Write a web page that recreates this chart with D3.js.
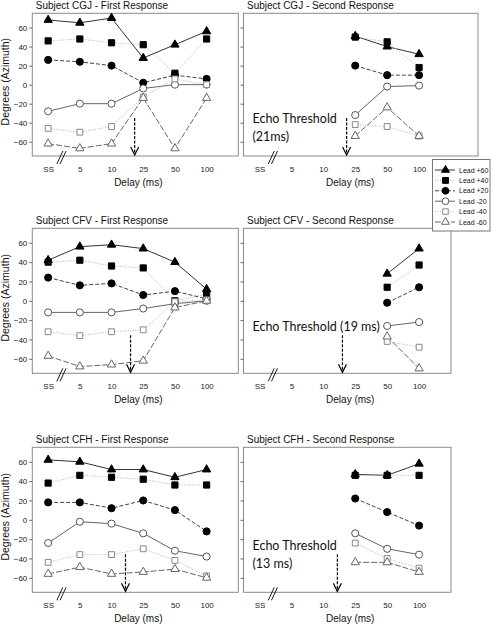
<!DOCTYPE html>
<html><head><meta charset="utf-8">
<script src="https://cdn.jsdelivr.net/npm/d3@7"></script>
<style>body{margin:0;background:#fff}svg{display:block}</style>
</head><body>
<svg id="c" width="495" height="624"></svg>
<script>
// ---------- data ----------
const delays = ["SS", "5", "10", "25", "50", "100"];
const yTickValues = [-60, -40, -20, 0, 20, 40, 60];
const leads = ["Lead +60", "Lead +40", "Lead +20", "Lead -20", "Lead -40", "Lead -60"];

// rows = leads (+60, +40, +20, -20, -40, -60), columns = delays
const cgjFirst = [
  [68, 65, 70, 28, 42, 56],
  [46, 48, 44, 42, 12, 48],
  [26, 24, 20, 2, 10, 6],
  [-28, -20, -20, -4, 0, 0],
  [-46, -50, -44, -13, 6, 0],
  [-62, -67, -62, -14, -67, -14]
];
const cgjSecond = [
  [null, null, null, 51, 40, 32],
  [null, null, null, 50, 45, 18],
  [null, null, null, 20, 10, 10],
  [null, null, null, -32, -2, -1],
  [null, null, null, -42, -44, -54],
  [null, null, null, -54, -24, -54]
];
const cfvFirst = [
  [42, 56, 58, 54, 40, 12],
  [40, 42, 36, 34, 0, 7],
  [24, 16, 18, 6, 10, 2],
  [-12, -12, -12, -8, -3, 0],
  [-32, -36, -32, -30, -1, 1],
  [-57, -68, -66, -62, -7, 0]
];
const cfvSecond = [
  [null, null, null, null, 28, 54],
  [null, null, null, null, 14, 37],
  [null, null, null, null, -2, 14],
  [null, null, null, null, -26, -22],
  [null, null, null, null, -42, -48],
  [null, null, null, null, -37, -70]
];
const cfhFirst = [
  [62, 60, 52, 52, 44, 52],
  [38, 46, 44, 42, 36, 36],
  [18, 18, 12, 20, 10, -12],
  [-24, -2, -4, -14, -32, -38],
  [-44, -36, -36, -30, -42, -58],
  [-56, -49, -56, -54, -51, -60]
];
const cfhSecond = [
  [null, null, null, 47, 46, 58],
  [null, null, null, 46, 46, 46],
  [null, null, null, 22, 8, -6],
  [null, null, null, -14, -30, -36],
  [null, null, null, -24, -40, -50],
  [null, null, null, -44, -44, -54]
];
const subjects = ["CGJ", "CFV", "CFH"];
const responses = ["First Response", "Second Response"];
// echo-threshold arrow position, in delay-index units
const thresholdPos = [2.73, 2.6, 2.44];
const thresholdLabels = [["Echo Threshold", "(21ms)"], ["Echo Threshold (19 ms)"], ["Echo Threshold", "(13 ms)"]];

// ---------- layout / styles ----------
const svg = d3.select("#c");
const rows = [{top: 13.3, bottom: 156}, {top: 228.3, bottom: 373.3}, {top: 447.3, bottom: 592.3}];
const cols = [{left: 32.3, right: 238.3}, {left: 243.5, right: 451}];
const panelData = [[cgjFirst, cgjSecond], [cfvFirst, cfvSecond], [cfhFirst, cfhSecond]];
const font = "'Liberation Sans', Arial, sans-serif";

const styles = [
  {sym: d3.symbolTriangle, size: 30, fill: "#000", stroke: "#000", line: "#333", dash: null, lw: 1},
  {sym: d3.symbolSquare, size: 38, fill: "#000", stroke: "#000", line: "#b5b5b5", dash: "1,1.5", lw: 1},
  {sym: d3.symbolCircle, size: 40, fill: "#000", stroke: "#000", line: "#444", dash: "4,2", lw: 1},
  {sym: d3.symbolCircle, size: 40, fill: "#fff", stroke: "#555", line: "#666", dash: null, lw: 1},
  {sym: d3.symbolSquare, size: 34, fill: "#fff", stroke: "#888", line: "#b5b5b5", dash: "1,1.5", lw: 1},
  {sym: d3.symbolTriangle, size: 30, fill: "#fff", stroke: "#666", line: "#666", dash: "6,2", lw: 1}
];

rows.forEach((r, ri) => {
  cols.forEach((c, ci) => {
    const right = (ri === 0 && ci === 1) ? 478 : c.right;
    const x = d3.scaleLinear().domain([-0.5, 6]).range([c.left, c.right]);
    const y = d3.scaleLinear().domain([-75, 75]).range([r.bottom, r.top]);
    const g = svg.append("g");

    // frame
    g.append("rect").attr("x", c.left).attr("y", r.top)
      .attr("width", right - c.left).attr("height", r.bottom - r.top)
      .attr("fill", "none").attr("stroke", "#8a8a8a").attr("stroke-width", 1);

    // y axis
    const yAxis = d3.axisLeft(y).tickValues(yTickValues).tickSize(3).tickPadding(2)
      .tickFormat(ci === 0 ? d3.format("d") : "");
    const ya = g.append("g").attr("transform", `translate(${c.left},0)`).call(yAxis);
    ya.select(".domain").remove();
    ya.selectAll("line").attr("stroke", "#666");
    ya.selectAll("text").attr("font-family", font).attr("font-size", 8).attr("fill", "#222");

    // x axis labels
    const xa = g.append("g").attr("transform", `translate(0,${r.bottom})`)
      .call(d3.axisBottom(x).tickValues(d3.range(delays.length)).tickSize(0).tickPadding(10)
        .tickFormat(i => delays[i]));
    xa.select(".domain").remove();
    xa.selectAll("text").attr("font-family", font).attr("font-size", 8).attr("fill", "#222");

    // axis break marks
    const bx = x(0.42);
    [-1.6, 1.6].forEach(o => {
      g.append("line").attr("x1", bx + o - 3).attr("y1", r.bottom + 8)
        .attr("x2", bx + o + 3).attr("y2", r.bottom - 5)
        .attr("stroke", "#000").attr("stroke-width", 0.9);
    });

    // titles
    g.append("text").attr("x", c.left + 3.5).attr("y", r.top - 4.5)
      .attr("font-family", font).attr("font-size", 10).attr("fill", "#111")
      .text(`Subject ${subjects[ri]} - ${responses[ci]}`);
    g.append("text").attr("x", (c.left + c.right) / 2 + 3).attr("y", r.bottom + 29.5)
      .attr("text-anchor", "middle").attr("font-family", font).attr("font-size", 10).attr("fill", "#111")
      .text("Delay (ms)");
    if (ci === 0) {
      g.append("text").attr("transform", `translate(9,${(r.top + r.bottom) / 2 - 3}) rotate(-90)`)
        .attr("text-anchor", "middle").attr("font-family", font).attr("font-size", 10.5).attr("fill", "#111")
        .text("Degrees (Azimuth)");
    }

    // series
    const data = panelData[ri][ci];
    const line = d3.line().defined(d => d != null).x((d, i) => x(i)).y(d => y(d));
    data.forEach((vals, si) => {
      const s = styles[si];
      g.append("path").datum(vals).attr("d", line).attr("fill", "none")
        .attr("stroke", s.line).attr("stroke-width", s.lw).attr("stroke-dasharray", s.dash);
    });
    data.forEach((vals, si) => {
      const s = styles[si];
      g.selectAll(null).data(vals.map((v, i) => ({v, i})).filter(d => d.v != null)).enter()
        .append("path").attr("d", d3.symbol(s.sym, s.size))
        .attr("transform", d => `translate(${x(d.i)},${y(d.v)})`)
        .attr("fill", s.fill).attr("stroke", s.stroke).attr("stroke-width", 1);
    });

    // echo threshold arrow
    const ax = x(thresholdPos[ri]);
    const aTop = r.bottom - 38;
    g.append("line").attr("x1", ax).attr("x2", ax).attr("y1", aTop).attr("y2", r.bottom - 1)
      .attr("stroke", "#000").attr("stroke-width", 1.2).attr("stroke-dasharray", "3,1.5");
    g.append("path").attr("d", `M${ax - 4},${r.bottom - 9}L${ax},${r.bottom - 1}L${ax + 4},${r.bottom - 9}`)
      .attr("fill", "none").attr("stroke", "#000").attr("stroke-width", 1.2);

    if (ci === 1) {
      const lines = thresholdLabels[ri];
      const base = ri === 0 ? 122.5 : ri === 1 ? 331 : 550;
      lines.forEach((t, li) => {
        g.append("text").attr("x", c.left + 9).attr("y", base + li * 18)
          .attr("font-family", "Lato, 'Open Sans', sans-serif").attr("font-size", 12.5).attr("fill", "#111")
          .text(t);
      });
    }
  });
});

// legend
const lg = svg.append("g");
lg.append("rect").attr("x", 432.5).attr("y", 159.5).attr("width", 57.5).attr("height", 71.5)
  .attr("fill", "#fff").attr("stroke", "#777").attr("stroke-width", 1);
leads.forEach((name, i) => {
  const s = styles[i];
  const ly = 170 + i * 10.4;
  lg.append("line").attr("x1", 435).attr("x2", 455).attr("y1", ly).attr("y2", ly)
    .attr("stroke", s.line).attr("stroke-width", 1).attr("stroke-dasharray", s.dash);
  lg.append("path").attr("d", d3.symbol(s.sym, s.size * 0.9)).attr("transform", `translate(445.5,${ly})`)
    .attr("fill", s.fill).attr("stroke", s.stroke);
  lg.append("text").attr("x", 459).attr("y", ly + 2.5).attr("font-family", font).attr("font-size", 7)
    .attr("fill", "#111").text(name);
});
</script>
</body></html>
